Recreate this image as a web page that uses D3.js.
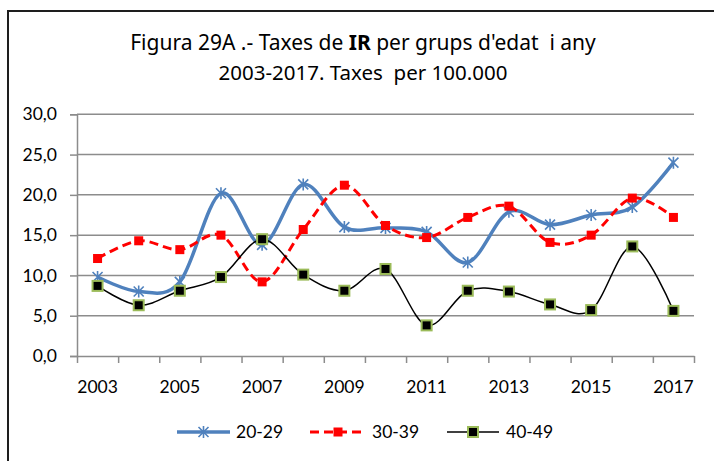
<!DOCTYPE html>
<html>
<head>
<meta charset="utf-8">
<script src="https://cdn.jsdelivr.net/npm/d3@7"></script>
<style>
  html, body { margin: 0; padding: 0; background: #fff; }
  svg { display: block; }
</style>
</head>
<body>
<svg id="chart" width="714" height="461"></svg>
<script>
// Rates per 100,000 by age group, 2003-2017
const years = ["2003","2004","2005","2006","2007","2008","2009","2010","2011","2012","2013","2014","2015","2016","2017"];
const ages20_29 = [9.8, 8.0, 9.2, 20.2, 13.8, 21.3, 16.0, 15.9, 15.4, 11.6, 17.9, 16.3, 17.5, 18.5, 24.0];
const ages30_39 = [12.1, 14.3, 13.2, 15.0, 9.2, 15.7, 21.2, 16.2, 14.7, 17.2, 18.6, 14.1, 15.0, 19.6, 17.2];
const ages40_49 = [8.7, 6.3, 8.1, 9.8, 14.5, 10.1, 8.1, 10.8, 3.8, 8.1, 8.0, 6.4, 5.7, 13.6, 5.6];
const seriesNames = ["20-29", "30-39", "40-49"];
const yTicks = [0, 5, 10, 15, 20, 25, 30];

const series = [
  { name: seriesNames[0], values: ages20_29, color: "#4F81BD", width: 3.5, dash: null, marker: "star" },
  { name: seriesNames[1], values: ages30_39, color: "#FF0000", width: 3, dash: "9,5", marker: "square" },
  { name: seriesNames[2], values: ages40_49, color: "#000000", width: 1.5, dash: null, marker: "greensquare" }
];

const svg = d3.select("#chart");
const tickFont = "Lato, 'Liberation Sans', sans-serif";
const gridColor = "#8C8C8C";

svg.append("rect").attr("width", 714).attr("height", 461).attr("fill", "#fff");
// chart frame
svg.append("rect")
  .attr("x", 8).attr("y", 11).attr("width", 720).attr("height", 470)
  .attr("fill", "none").attr("stroke", "#1E1E1E").attr("stroke-width", 2);

// title
const title = svg.append("text")
  .attr("text-anchor", "middle")
  .attr("font-family", "'Noto Sans', 'Open Sans', sans-serif")
  .attr("font-size", 20.5)
  .attr("fill", "#000");
const t1 = title.append("tspan").attr("x", 363).attr("y", 50).attr("font-size", 21);
t1.append("tspan").text("Figura 29A .- Taxes de ");
t1.append("tspan").attr("font-weight", "bold").text("IR");
t1.append("tspan").text(" per grups d'edat\u00A0 i any");
title.append("tspan").attr("x", 363).attr("y", 80).text("2003-2017. Taxes\u00A0 per 100.000");

const plotLeft = 77, plotRight = 694, plotTop = 114.3, plotBottom = 356;

const x = d3.scaleBand().domain(years).range([plotLeft, plotRight]);
const y = d3.scaleLinear().domain([0, 30]).range([plotBottom, plotTop]);
const cx = d => x(d) + x.bandwidth() / 2;

// horizontal gridlines
svg.append("g").selectAll("line")
  .data(yTicks.filter(t => t > 0))
  .join("line")
  .attr("x1", plotLeft).attr("x2", plotRight)
  .attr("y1", d => y(d)).attr("y2", d => y(d))
  .attr("stroke", gridColor).attr("stroke-width", 1.5);

// y axis
const fmt = d3.format(".1f");
const yAxis = svg.append("g")
  .attr("transform", `translate(${plotLeft},0)`)
  .call(d3.axisLeft(y).tickValues(yTicks).tickSize(7).tickPadding(13)
    .tickFormat(d => fmt(d).replace(".", ",")));
yAxis.select(".domain").attr("stroke", gridColor).attr("stroke-width", 1.5);
yAxis.selectAll(".tick line").attr("stroke", gridColor).attr("stroke-width", 1.5);
yAxis.selectAll("text").attr("font-family", tickFont).attr("font-size", 17.5).attr("fill", "#000");

// x axis: tick marks at category boundaries
const xb = d3.scaleLinear().domain([0, years.length]).range([plotLeft, plotRight]);
const xTickAxis = svg.append("g")
  .attr("transform", `translate(0,${plotBottom})`)
  .call(d3.axisBottom(xb).tickValues(d3.range(years.length + 1))
    .tickSize(7).tickSizeOuter(0).tickFormat(""));
xTickAxis.select(".domain").attr("stroke", gridColor).attr("stroke-width", 1.5);
xTickAxis.selectAll(".tick line").attr("stroke", gridColor).attr("stroke-width", 1.5);

// x axis labels: every other year
const xLabAxis = svg.append("g")
  .attr("transform", `translate(0,${plotBottom})`)
  .call(d3.axisBottom(x).tickSize(0).tickPadding(25)
    .tickFormat((d, i) => (i % 2 === 0 ? d : "")));
xLabAxis.select(".domain").remove();
xLabAxis.selectAll("text").attr("font-family", tickFont).attr("font-size", 17.5).attr("fill", "#000");

// markers
function drawMarker(g, type, color) {
  if (type === "star") {
    const s = 5;
    g.append("path")
      .attr("d", `M${-s},${-s}L${s},${s}M${-s},${s}L${s},${-s}M0,${-s - 1}L0,${s + 1}`)
      .attr("stroke", color).attr("stroke-width", 1.6).attr("fill", "none");
  } else if (type === "square") {
    g.append("rect").attr("x", -4.5).attr("y", -4.5).attr("width", 9).attr("height", 9)
      .attr("fill", color);
  } else {
    g.append("rect").attr("x", -5).attr("y", -5).attr("width", 10).attr("height", 10)
      .attr("fill", "#000").attr("stroke", "#9BBB59").attr("stroke-width", 2);
  }
}

const line = d3.line().curve(d3.curveCatmullRom.alpha(0));

series.forEach(s => {
  const pts = years.map((yr, i) => [cx(yr), y(s.values[i])]);
  svg.append("path")
    .attr("d", line(pts))
    .attr("fill", "none")
    .attr("stroke", s.color)
    .attr("stroke-width", s.width)
    .attr("stroke-dasharray", s.dash)
    .attr("stroke-linejoin", "round");
  svg.append("g").selectAll("g")
    .data(pts)
    .join("g")
    .attr("transform", d => `translate(${d[0]},${d[1]})`)
    .each(function () { drawMarker(d3.select(this), s.marker, s.color); });
});

// legend
const legendY = 432;
const legendItems = [
  { x1: 177, x2: 230, tx: 236 },
  { x1: 310, x2: 366, tx: 372 },
  { x1: 447, x2: 499, tx: 506 }
];
series.forEach((s, i) => {
  const L = legendItems[i];
  const g = svg.append("g");
  g.append("line").attr("x1", L.x1).attr("x2", L.x2).attr("y1", legendY).attr("y2", legendY)
    .attr("stroke", s.color).attr("stroke-width", s.width).attr("stroke-dasharray", s.dash);
  const mg = g.append("g").attr("transform", `translate(${(L.x1 + L.x2) / 2},${legendY})`);
  drawMarker(mg, s.marker, s.color);
  g.append("text").attr("x", L.tx).attr("y", legendY).attr("dy", "0.35em")
    .attr("font-family", tickFont).attr("font-size", 17.5).attr("fill", "#000")
    .text(s.name);
});
</script>
</body>
</html>
